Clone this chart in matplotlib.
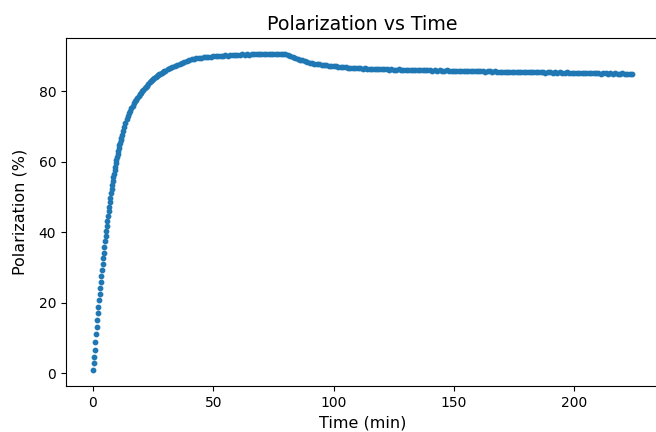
import numpy as np
import matplotlib
matplotlib.use("Agg")
import matplotlib.pyplot as plt

# early ramp, sampled every 15 s
time_ramp = [
    0.0, 0.25, 0.5, 0.75, 1.0, 1.25, 1.5, 1.75, 2.0, 2.25,
    2.5, 2.75, 3.0, 3.25, 3.5, 3.75, 4.0, 4.25, 4.5, 4.75,
    5.0, 5.25, 5.5, 5.75, 6.0, 6.25, 6.5, 6.75, 7.0, 7.25,
    7.5, 7.75, 8.0, 8.25, 8.5, 8.75, 9.0, 9.25, 9.5, 9.75,
    10.0, 10.25, 10.5, 10.75, 11.0, 11.25, 11.5, 11.75, 12.0,
]
pol_ramp = [
    0.85, 2.75, 4.6, 6.7, 8.9, 11.0, 13.1, 15.1, 17.0, 18.9,
    20.7, 22.5, 24.3, 26.0, 27.7, 29.4, 31.0, 32.6, 34.2, 35.8,
    37.4, 38.9, 40.4, 41.8, 43.2, 44.6, 45.9, 47.2, 48.5, 49.8,
    51.0, 52.2, 53.4, 54.5, 55.6, 56.6, 57.6, 58.6, 59.6, 60.5,
    61.4, 62.3, 63.1, 63.9, 64.7, 65.4, 66.1, 66.8, 67.5,
]

# knee of the curve
time_knee = [
    12.5, 13.0, 13.5, 14.0, 14.5, 15.0, 15.5, 16.0, 16.5, 17.0,
    17.5, 18.0, 18.5, 19.0, 19.5, 20.0, 20.5, 21.0, 21.5, 22.0,
    22.5, 23.0, 23.5, 24.0, 24.5, 25.0, 25.5, 26.0, 26.5, 27.0,
    27.5, 28.0, 28.5, 29.0, 29.5, 30.0,
]
pol_knee = [
    68.8, 69.9, 71.0, 72.0, 72.9, 73.7, 74.5, 75.2, 75.9, 76.5,
    77.1, 77.6, 78.1, 78.6, 79.1, 79.6, 80.0, 80.4, 80.8, 81.2,
    81.6, 82.1, 82.5, 82.8, 83.2, 83.5, 83.8, 84.0, 84.3, 84.5,
    84.8, 85.0, 85.2, 85.4, 85.6, 85.8,
]

# plateau, relaxation and tail
time_tail = [
    31, 32, 33, 34, 35, 36, 37, 38, 39, 40,
    41, 42, 43, 44, 45, 46, 47, 48, 49, 50,
    51, 52, 53, 54, 55, 56, 57, 58, 59, 60,
    61, 62, 63, 64, 65, 66, 67, 68, 69, 70,
    71, 72, 73, 74, 75, 76, 77, 78, 79, 80,
    81, 82, 83, 84, 85, 86, 87, 88, 89, 90,
    91, 92, 93, 94, 95, 96, 97, 98, 99, 100,
    101, 102, 103, 104, 105, 106, 107, 108, 109, 110,
    111, 112, 113, 114, 115, 116, 117, 118, 119, 120,
    121, 122, 123, 124, 125, 126, 127, 128, 129, 130,
    131, 132, 133, 134, 135, 136, 137, 138, 139, 140,
    141, 142, 143, 144, 145, 146, 147, 148, 149, 150,
    151, 152, 153, 154, 155, 156, 157, 158, 159, 160,
    161, 162, 163, 164, 165, 166, 167, 168, 169, 170,
    171, 172, 173, 174, 175, 176, 177, 178, 179, 180,
    181, 182, 183, 184, 185, 186, 187, 188, 189, 190,
    191, 192, 193, 194, 195, 196, 197, 198, 199, 200,
    201, 202, 203, 204, 205, 206, 207, 208, 209, 210,
    211, 212, 213, 214, 215, 216, 217, 218, 219, 220,
    221, 222, 223, 224,
]
pol_tail = [
    86.2, 86.5, 86.9, 87.2, 87.5, 87.8, 88.0, 88.3, 88.5, 88.8,
    89.0, 89.1, 89.3, 89.4, 89.5, 89.6, 89.7, 89.7, 89.8, 89.9,
    89.9, 90.0, 90.0, 90.1, 90.2, 90.1, 90.2, 90.3, 90.2, 90.3,
    90.3, 90.4, 90.3, 90.4, 90.3, 90.4, 90.5, 90.6, 90.4, 90.5,
    90.4, 90.5, 90.6, 90.5, 90.4, 90.5, 90.6, 90.5, 90.6, 90.5,
    90.3, 90.0, 89.7, 89.4, 89.1, 88.9, 88.7, 88.5, 88.3, 88.1,
    88.0, 87.8, 87.7, 87.6, 87.5, 87.4, 87.3, 87.2, 87.15, 87.1,
    87.0, 86.95, 86.9, 86.8, 86.8, 86.7, 86.7, 86.6, 86.6, 86.5,
    86.5, 86.4, 86.5, 86.4, 86.3, 86.4, 86.3, 86.3, 86.2, 86.3,
    86.2, 86.2, 86.1, 86.2, 86.1, 86.1, 86.2, 86.1, 86.0, 86.1,
    86.0, 86.0, 86.1, 86.0, 85.9, 86.0, 85.9, 86.0, 85.9, 85.9,
    85.8, 85.9, 85.8, 85.9, 85.8, 85.8, 85.9, 85.8, 85.7, 85.8,
    85.7, 85.8, 85.7, 85.7, 85.6, 85.7, 85.6, 85.7, 85.6, 85.6,
    85.7, 85.6, 85.5, 85.6, 85.6, 85.5, 85.6, 85.5, 85.5, 85.4,
    85.5, 85.5, 85.4, 85.5, 85.4, 85.4, 85.5, 85.4, 85.3, 85.4,
    85.4, 85.3, 85.4, 85.3, 85.3, 85.4, 85.3, 85.2, 85.3, 85.3,
    85.2, 85.3, 85.2, 85.3, 85.2, 85.2, 85.3, 85.2, 85.1, 85.2,
    85.2, 85.1, 85.2, 85.1, 85.2, 85.1, 85.1, 85.2, 85.1, 85.1,
    85.0, 85.1, 85.1, 85.0, 85.1, 85.0, 85.1, 85.0, 85.0, 85.1,
    85.0, 85.0, 85.0, 85.0,
]

time_min = np.concatenate([time_ramp, time_knee, time_tail])
polarization = np.concatenate([pol_ramp, pol_knee, pol_tail])

fig = plt.figure(figsize=(6.56, 4.32), dpi=100)
# axes runs a little past the right edge, as in the cropped original
ax = fig.add_axes([0.1006, 0.1065, 0.904, 0.8056])
ax.scatter(time_min, polarization, s=10, color="C0")
ax.set_title("Polarization vs Time", fontsize=13.7)
ax.set_xlabel("Time (min)", fontsize=11.5)
ax.set_ylabel("Polarization (%)", fontsize=11.5, labelpad=8)

fig.savefig("out.png", dpi=100)
plt.close(fig)
